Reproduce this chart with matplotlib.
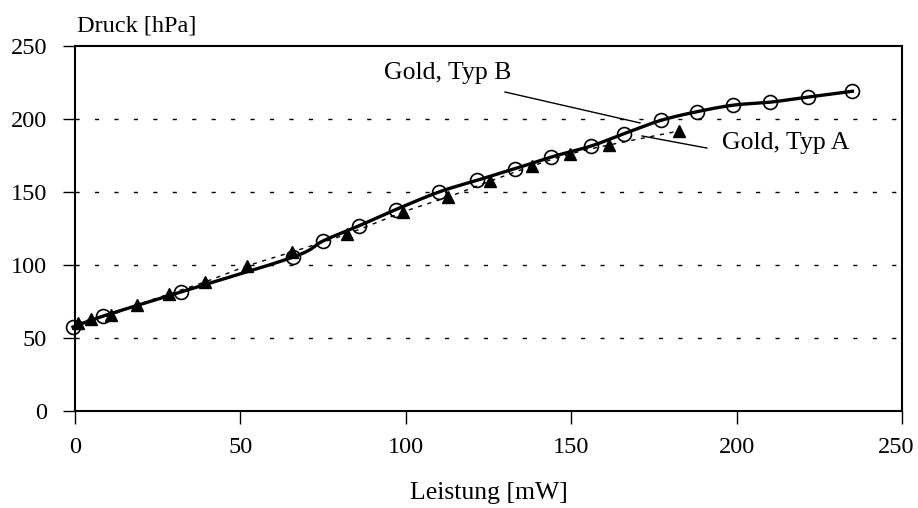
import numpy as np
import matplotlib
matplotlib.use("Agg")
import matplotlib.pyplot as plt
from matplotlib.transforms import ScaledTranslation

# Gold, Typ B (open circles, solid curve)
leistung_b = [-0.6, 8.5, 32, 66, 75, 86, 97, 110, 121.5, 133, 144, 156, 166, 177, 188, 199, 210, 221.5, 235]
druck_b = [57.5, 65, 81.5, 105.5, 116.5, 127, 138, 150, 158, 166, 174, 181.5, 190, 199, 205, 209.5, 211.5, 215, 219]

# Gold, Typ A (filled triangles, dashed curve)
leistung_a = [0.9, 4.8, 10.9, 18.7, 28.4, 39.3, 52, 65.6, 82.2, 99.2, 112.8, 125.5, 138.2, 149.6, 161.4, 182.6]
druck_a = [60.3, 63, 65.8, 72.6, 80.1, 88.4, 99.3, 108.9, 121.2, 136.3, 146.6, 157.5, 167.8, 176, 182.2, 191.8]

x_ticks = [0, 50, 100, 150, 200, 250]
y_ticks = [0, 50, 100, 150, 200, 250]
label_b = "Gold, Typ B"
label_a = "Gold, Typ A"


def smooth(x, y, n=20):
    """Piecewise cubic Bezier through the points (spreadsheet-style smoothed line)."""
    p = np.column_stack([x, y]).astype(float)
    ext = np.vstack([p[0], p, p[-1]])
    out = [p[0]]
    t = np.linspace(0, 1, n)[1:, None]
    for i in range(len(p) - 1):
        p0, p1, p2, p3 = ext[i], ext[i + 1], ext[i + 2], ext[i + 3]
        c1 = p1 + (p2 - p0) / 6.0
        c2 = p2 - (p3 - p1) / 6.0
        seg = ((1 - t) ** 3) * p1 + 3 * ((1 - t) ** 2) * t * c1 + 3 * (1 - t) * t ** 2 * c2 + t ** 3 * p2
        out.extend(seg)
    out = np.array(out)
    return out[:, 0], out[:, 1]


plt.rcParams["font.family"] = ["Liberation Serif", "DejaVu Serif"]

fig = plt.figure(figsize=(9.18, 5.08), dpi=100)
ax = fig.add_axes([0.0817, 0.191, 0.9009, 0.7184])

ax.set_xlim(0, 250)
ax.set_ylim(0, 250)

# horizontal dotted grid
for yv in y_ticks[1:-1]:
    ax.axhline(yv, color="black", lw=1.0, dashes=(3, 11), zorder=1)

xs, ys = smooth(leistung_a, druck_a)
ax.plot(xs, ys, color="black", lw=1.0, dashes=(3, 4), zorder=2, clip_on=False)
ax.plot(leistung_a, druck_a, ls="none", marker="^", ms=8, color="black", zorder=3, clip_on=False)

xs, ys = smooth(leistung_b, druck_b)
ax.plot(xs, ys, color="black", lw=2.4, zorder=4, clip_on=False)
ax.plot(leistung_b, druck_b, ls="none", marker="o", ms=10, mfc="none", mec="black", mew=1.2,
        zorder=5, clip_on=False)

ax.set_xticks(x_ticks)
ax.set_yticks(y_ticks)
ax.tick_params(direction="out", length=9, width=1.0, labelsize=17.5, color="black")
ax.tick_params(axis="y", pad=11)
ax.tick_params(axis="x", pad=10)
for s in ax.spines.values():
    s.set_linewidth(1.5)

# keep the last x tick label inside the figure
last = ax.get_xticklabels()[-1]
last.set_transform(last.get_transform() + ScaledTranslation(-6 / 100, 0, fig.dpi_scale_trans))

ax.set_xlabel("Leistung [mW]", fontsize=18.5, labelpad=17)
fig.text(77 / 918, 1 - 26 / 508, "Druck [hPa]", fontsize=17.5, ha="left", va="center")

ax.text(112.8, 231.5, label_b, fontsize=18.5, ha="center", va="center")
ax.plot([130, 170.8], [218.5, 197.3], color="black", lw=1.0)
ax.text(215, 183.6, label_a, fontsize=18.5, ha="center", va="center")
ax.plot([171.4, 191], [188.4, 180.1], color="black", lw=1.0)

fig.savefig("out.png", dpi=100)
